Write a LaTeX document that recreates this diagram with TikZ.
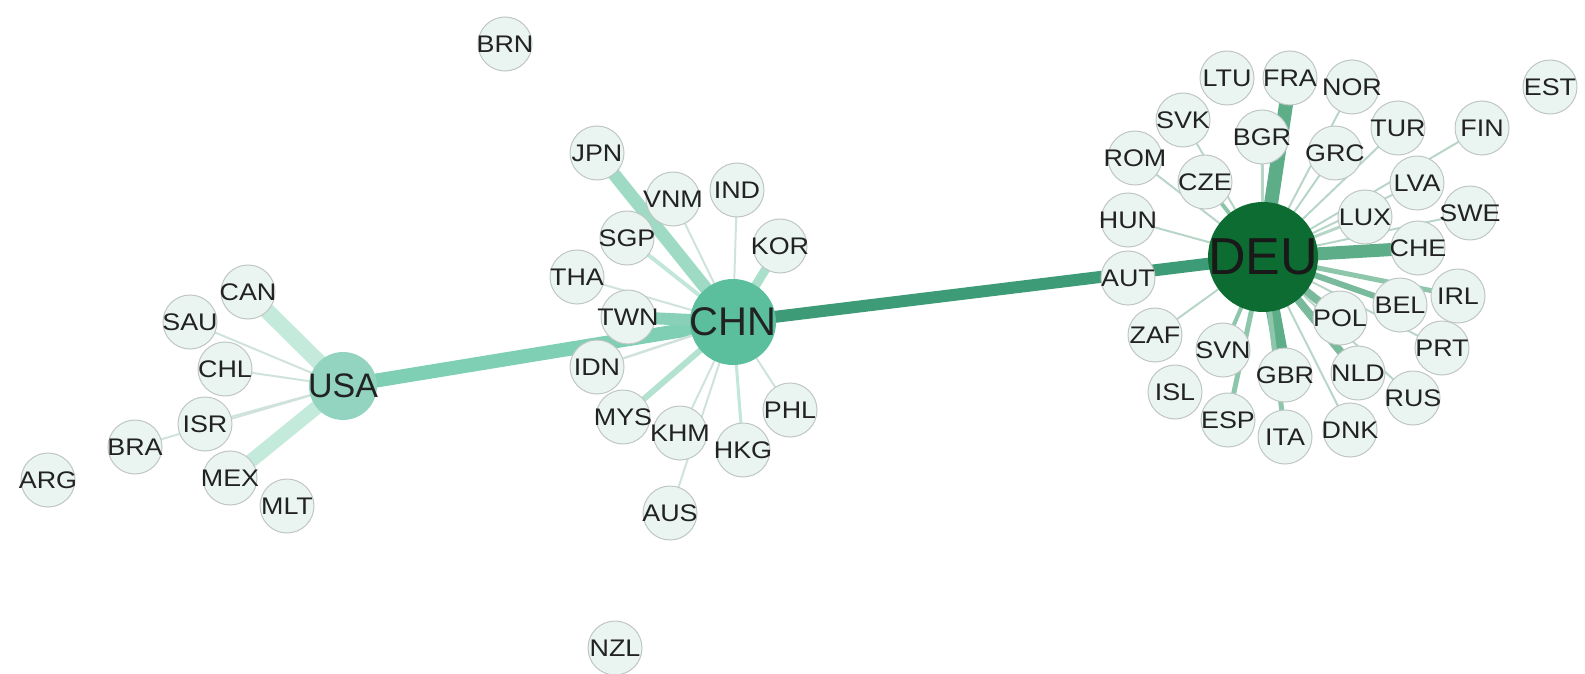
\documentclass[tikz,border=0pt]{standalone}
\usepackage{fontspec}
\setmainfont{Liberation Sans}
\newfontfamily\labfont{Liberation Sans}[FakeStretch=1.12]
\pgfdeclarelayer{edges}
\pgfdeclarelayer{labels}
\pgfsetlayers{edges,main,labels}

% node colours
\definecolor{nodefill}{HTML}{EAF5F1}
\definecolor{nodeline}{HTML}{BFC6C3}
\definecolor{usafill}{HTML}{93D4C0}
\definecolor{chnfill}{HTML}{5BBF9E}
\definecolor{deufill}{HTML}{0D6C31}
\definecolor{labtext}{HTML}{222222}
% edge colours
\definecolor{eUC}{HTML}{7FCFB5}
\definecolor{eCD}{HTML}{3D9B77}
\definecolor{eLt}{HTML}{C4EADC}
\definecolor{eJ}{HTML}{9FDAC5}
\definecolor{eT}{HTML}{88D0B8}
\definecolor{eK}{HTML}{A9DFCB}
\definecolor{eM}{HTML}{B4E2D1}
\definecolor{eS}{HTML}{C2E6D9}
\definecolor{eThin}{HTML}{D0E3DB}
\definecolor{eDa}{HTML}{5DAD89}
\definecolor{eDb}{HTML}{78BA9B}
\definecolor{eDc}{HTML}{8EC6AC}
\definecolor{eDt}{HTML}{B8D6C8}

\tikzset{
  country/.style={circle, draw=nodeline, fill=nodefill, line width=1pt,
    minimum size=54pt, inner sep=0pt},
  hub/.style={circle, draw=none, inner sep=0pt},
  lab/.style={inner sep=0pt, text=labtext, font=\labfont\fontsize{24}{24}\selectfont},
  hublab/.style={inner sep=0pt, text=labtext},
  link/.style={line cap=butt}
}

\begin{document}
\begin{tikzpicture}[x=1pt,y=-1pt]
\useasboundingbox (0,0) rectangle (1585,674);

% hubs
\node[hub, fill=usafill, minimum size=68pt] (USA) at (343,386) {};
\node[hub, fill=chnfill, minimum size=86pt] (CHN) at (733,322) {};
\node[hub, fill=deufill, minimum size=110pt] (DEU) at (1263,257) {};

% partner countries
\foreach \n/\x/\y in {
  BRN/505/44, NZL/615/648, ARG/48/480, BRA/135/447, ISR/205/424,
  MEX/230/478, MLT/287/506, CHL/225/369, SAU/190/322, CAN/248/292,
  JPN/597/153, VNM/673/199, IND/737/190, SGP/627/238, KOR/780/246,
  THA/577/277, TWN/628/317, IDN/597/367, MYS/623/417, KHM/680/433,
  HKG/743/450, PHL/790/410, AUS/670/513,
  AUT/1128/278, HUN/1128/220, ROM/1135/158, SVK/1183/120, CZE/1205/182,
  LTU/1227/78, FRA/1290/78, BGR/1262/137, NOR/1352/87, GRC/1335/153,
  TUR/1398/128, FIN/1482/128, EST/1550/87, LVA/1417/183, LUX/1365/217,
  SWE/1470/213, CHE/1418/248, IRL/1458/296, BEL/1400/305, POL/1340/318,
  PRT/1442/348, ZAF/1155/335, SVN/1223/350, ISL/1175/392, GBR/1285/375,
  NLD/1358/373, RUS/1413/398, ESP/1228/420, ITA/1285/437, DNK/1350/430}
  \node[country] (\n) at (\x,\y) {};

% trade links, weighted by width
\begin{pgfonlayer}{edges}
\foreach \a/\b/\w/\c in {
  USA/CHN/14/eUC, CHN/DEU/12/eCD,
  USA/CAN/16/eLt, USA/MEX/14/eLt, USA/SAU/2/eThin, USA/CHL/2/eThin,
  USA/ISR/2/eThin, USA/BRA/2/eThin,
  CHN/JPN/13/eJ, CHN/TWN/12/eT, CHN/KOR/9/eK, CHN/MYS/6/eM,
  CHN/SGP/4/eS, CHN/HKG/3/eS, CHN/VNM/2/eThin, CHN/IND/2/eThin,
  CHN/THA/2/eThin, CHN/IDN/2.5/eThin, CHN/KHM/2/eThin, CHN/PHL/2/eThin,
  CHN/AUS/2/eThin,
  DEU/FRA/14/eDa, DEU/CHE/13/eDa, DEU/GBR/14/eDa,
  DEU/NLD/8/eDb, DEU/POL/8/eDb, DEU/BEL/6/eDb,
  DEU/IRL/5/eDc, DEU/ITA/5/eDc, DEU/ESP/5/eDc, DEU/SVN/4/eDc, DEU/CZE/4/eDc,
  DEU/HUN/2/eDt, DEU/ROM/2/eDt, DEU/SVK/2/eDt, DEU/GRC/2/eDt, DEU/NOR/2/eDt,
  DEU/TUR/2/eDt, DEU/FIN/2/eDt, DEU/LVA/2/eDt, DEU/LUX/3/eDt, DEU/SWE/2/eDt,
  DEU/PRT/2/eDt, DEU/RUS/2/eDt, DEU/DNK/2/eDt, DEU/ZAF/2/eDt, DEU/BGR/3/eDt}
  \draw[link, line width=\w pt, draw=\c] (\a.center) -- (\b.center);
\end{pgfonlayer}

% labels on top
\begin{pgfonlayer}{labels}
\foreach \n in {
  BRN, NZL, ARG, BRA, ISR, MEX, MLT, CHL, SAU, CAN,
  JPN, VNM, IND, SGP, KOR, THA, TWN, IDN, MYS, KHM, HKG, PHL, AUS,
  AUT, HUN, ROM, SVK, CZE, LTU, FRA, BGR, NOR, GRC, TUR, FIN, EST,
  LVA, LUX, SWE, CHE, IRL, BEL, POL, PRT, ZAF, SVN, ISL, GBR, NLD,
  RUS, ESP, ITA, DNK}
  \node[lab] (\n-t) at (\n.center) {\n};
\node[hublab, font=\fontsize{34}{34}\selectfont] (USA-t) at (USA.center) {USA};
\node[hublab, font=\fontsize{40}{40}\selectfont] (CHN-t) at (CHN.center) {CHN};
\node[hublab, font=\fontsize{52}{52}\selectfont, text=black!90] (DEU-t) at (DEU.center) {DEU};
\end{pgfonlayer}
\end{tikzpicture}
\end{document}
